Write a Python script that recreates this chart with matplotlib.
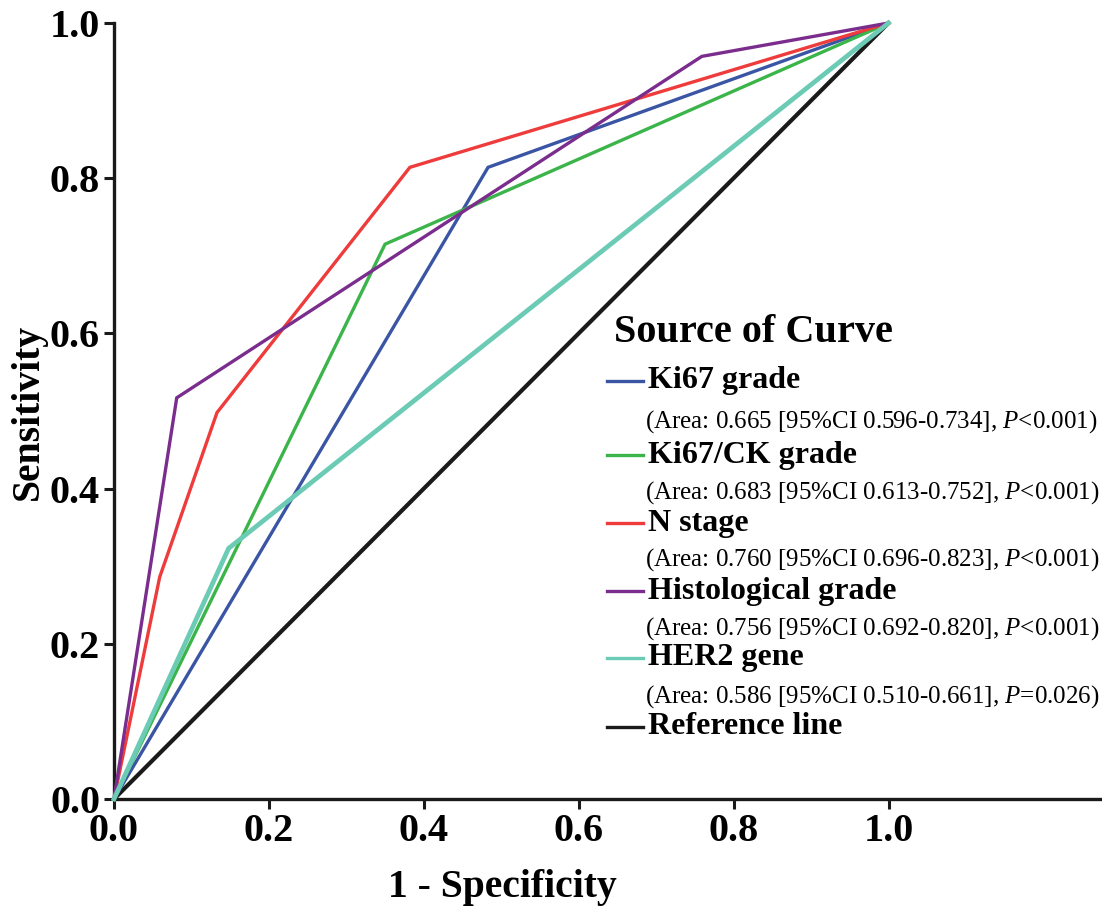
import matplotlib
matplotlib.use('Agg')
import matplotlib.pyplot as plt
from matplotlib.lines import Line2D

plt.rcParams['font.family'] = 'Liberation Serif'
plt.rcParams['mathtext.fontset'] = 'custom'
plt.rcParams['mathtext.rm'] = 'Liberation Serif'
plt.rcParams['mathtext.it'] = 'Liberation Serif:italic'

# ROC curves
ki67_x = [0, 0.483, 1]
ki67_y = [0, 0.814, 1]
ki67ck_x = [0, 0.350, 1]
ki67ck_y = [0, 0.715, 1]
nstage_x = [0, 0.059, 0.133, 0.382, 1]
nstage_y = [0, 0.286, 0.498, 0.814, 1]
hist_x = [0, 0.081, 0.759, 1]
hist_y = [0, 0.517, 0.957, 1]
her2_x = [0, 0.148, 1]
her2_y = [0, 0.323, 1]
ref_x = [0, 1]
ref_y = [0, 1]

names = ['Ki67 grade', 'Ki67/CK grade', 'N stage', 'Histological grade', 'HER2 gene']
details = ['(Area: 0.665 [95%CI 0.596-0.734], $P$<0.001)',
           '(Area: 0.683 [95%CI 0.613-0.752], $P$<0.001)',
           '(Area: 0.760 [95%CI 0.696-0.823], $P$<0.001)',
           '(Area: 0.756 [95%CI 0.692-0.820], $P$<0.001)',
           '(Area: 0.586 [95%CI 0.510-0.661], $P$=0.026)']
xticks = [0.0, 0.2, 0.4, 0.6, 0.8, 1.0]
yticks = [0.0, 0.2, 0.4, 0.6, 0.8, 1.0]

colors = ['#3A55A4', '#3BB44A', '#EE3B3B', '#7B2D8E', '#6CCBB5']
widths = [2.4, 2.4, 2.4, 2.4, 3.4]

W, H = 1102, 914
fig = plt.figure(figsize=(W / 100, H / 100), dpi=100)
ax = fig.add_axes([114 / W, 1 - 799 / H, (W - 114) / W, 776 / H])

curves = [(ki67_x, ki67_y), (ki67ck_x, ki67ck_y), (nstage_x, nstage_y),
          (hist_x, hist_y), (her2_x, her2_y)]
ax.plot(ref_x, ref_y, color='#1a1a1a', lw=3, clip_on=False, zorder=2)
for (xs, ys), c, w in zip(curves, colors, widths):
    ax.plot(xs, ys, color=c, lw=w, clip_on=False, zorder=3,
            solid_joinstyle='miter')

ax.set_xlim(0, (W - 114) / 774.5)
ax.set_ylim(0, 1)
ax.set_xticks(xticks)
ax.set_yticks(yticks)
ax.set_xticklabels(['%.1f' % t for t in xticks])
ax.set_yticklabels(['%.1f' % t for t in yticks])
ax.tick_params(width=2.2, length=7, labelsize=29, pad=3, color='#1a1a1a')
for lab in ax.get_xticklabels() + ax.get_yticklabels():
    lab.set_fontweight('bold')
for s in ['top', 'right']:
    ax.spines[s].set_visible(False)
for s in ['left', 'bottom']:
    ax.spines[s].set_linewidth(2.4)
    ax.spines[s].set_color('#1a1a1a')
ax.spines['left'].set_bounds(0, 1)

fig.text(502 / W, 1 - 888 / H, '1 - Specificity', ha='center', va='center',
         fontsize=28.5, fontweight='bold')
fig.text(28 / W, 1 - 412 / H, 'Sensitivity', ha='center', va='center',
         rotation=90, fontsize=28.5, fontweight='bold')

# legend drawn by hand
fig.text(614 / W, 1 - 332 / H, 'Source of Curve', ha='left', va='center',
         fontsize=29, fontweight='bold')
line_y = [381, 455, 523, 591, 658, 727]
detail_y = [422, 493, 560, 629, 697]
for i, (n, c) in enumerate(zip(names + ['Reference line'], colors + ['#1a1a1a'])):
    yy = 1 - line_y[i] / H
    fig.add_artist(Line2D([607 / W, 643 / W], [yy, yy], color=c, lw=2.4,
                          transform=fig.transFigure))
    fig.text(648 / W, yy, n, ha='left', va='center', fontsize=23,
             fontweight='bold')
for d, yv in zip(details, detail_y):
    fig.text(645 / W, 1 - yv / H, d, ha='left', va='center', fontsize=18)

fig.savefig('out.png', dpi=100)
